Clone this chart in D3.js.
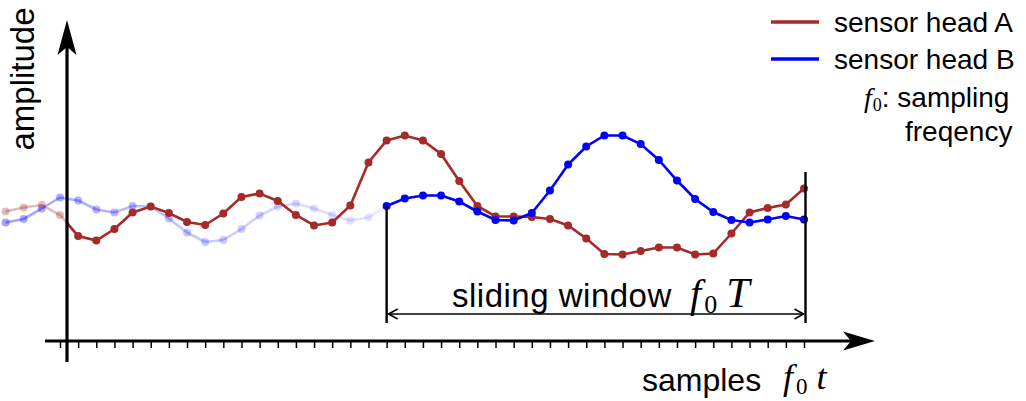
<!DOCTYPE html>
<html>
<head>
<meta charset="utf-8">
<script src="https://cdn.jsdelivr.net/npm/d3@7"></script>
<style>
  html, body { margin: 0; padding: 0; background: #fff; }
  svg { display: block; }
  .sans { font-family: "Liberation Sans", Arial, sans-serif; fill: #000; }
  .math { font-family: "Liberation Serif", "Times New Roman", serif; fill: #000; }
</style>
</head>
<body>
<svg id="chart" width="1026" height="401"></svg>
<script>
// Sample indices (negative indices lie before the time origin)
const samples = d3.range(-3, 42);
// Amplitude of sensor head A at each sample
const headA = [0.07, 0.15, 0.20, 0.00, -0.42, -0.51, -0.28, 0.05, 0.17, 0.04,
  -0.14, -0.20, 0.03, 0.36, 0.43, 0.28, 0.00, -0.21, -0.15, 0.19,
  1.05, 1.49, 1.59, 1.49, 1.22, 0.68, 0.18, -0.03, -0.03, -0.04,
  -0.08, -0.21, -0.47, -0.78, -0.79, -0.72, -0.65, -0.65, -0.79, -0.77,
  -0.37, 0.05, 0.14, 0.21, 0.53];
// Amplitude of sensor head B at each sample
const headB = [-0.15, -0.08, 0.13, 0.35, 0.29, 0.11, 0.05, 0.18, 0.17, -0.07,
  -0.35, -0.54, -0.50, -0.28, -0.01, 0.17, 0.23, 0.13, 0.00, -0.11,
  -0.05, 0.18, 0.33, 0.39, 0.39, 0.27, 0.07, -0.10, -0.11, 0.04,
  0.49, 1.01, 1.37, 1.59, 1.59, 1.42, 1.10, 0.69, 0.32, 0.06,
  -0.10, -0.15, -0.09, -0.02, -0.09];
// Tick positions along the sample axis
const tickSamples = d3.range(0, 42);
// Sliding window bounds (sample indices)
const windowStart = 18;
const windowEnd = 41;
const seriesNames = ["sensor head A", "sensor head B"];

const colorA = "#a52a2a";
const colorB = "#0000ff";

const svg = d3.select("#chart");
const x = d3.scaleLinear().domain([0, 41]).range([60, 804]);
const y = d3.scaleLinear().domain([0, 1]).range([215, 165]);

const ptsA = samples.map((s, i) => ({ s, v: headA[i] }));
const ptsB = samples.map((s, i) => ({ s, v: headB[i] }));

const line = d3.line().x(d => x(d.s)).y(d => y(d.v));

// Clip region right of the amplitude axis
const defs = svg.append("defs");
defs.append("clipPath").attr("id", "afterAxis")
  .append("rect").attr("x", 67).attr("y", 0).attr("width", 1000).attr("height", 401);

// --- Faded history of head B: opacity fades toward the window start
const fadeB = d3.scaleLinear().domain([-3, windowStart - 1]).range([0.36, 0.1]);
const gB0 = svg.append("g");
for (let i = 0; i < ptsB.length - 1; i++) {
  const a = ptsB[i], b = ptsB[i + 1];
  if (b.s > windowStart) break;
  gB0.append("path").attr("d", line([a, b]))
    .attr("fill", "none").attr("stroke", colorB).attr("stroke-width", 2.6)
    .attr("stroke-opacity", fadeB((a.s + b.s) / 2));
}
gB0.selectAll("circle").data(ptsB.filter(d => d.s < windowStart)).join("circle")
  .attr("cx", d => x(d.s)).attr("cy", d => y(d.v)).attr("r", 4)
  .attr("fill", colorB).attr("fill-opacity", d => fadeB(d.s));

// --- Faded head A before the time origin
const gA0 = svg.append("g");
gA0.append("path").attr("d", line(ptsA.filter(d => d.s <= 1)))
  .attr("fill", "none").attr("stroke", colorA).attr("stroke-width", 2.6).attr("stroke-opacity", 0.32);
gA0.selectAll("circle").data(ptsA.filter(d => d.s <= 0)).join("circle")
  .attr("cx", d => x(d.s)).attr("cy", d => y(d.v)).attr("r", 4)
  .attr("fill", colorA).attr("fill-opacity", 0.32);

// --- Head A from the origin on
const gA = svg.append("g").attr("clip-path", "url(#afterAxis)");
gA.append("path").attr("d", line(ptsA.filter(d => d.s >= 0)))
  .attr("fill", "none").attr("stroke", colorA).attr("stroke-width", 2.6);
gA.selectAll("circle").data(ptsA.filter(d => d.s >= 1)).join("circle")
  .attr("cx", d => x(d.s)).attr("cy", d => y(d.v)).attr("r", 4)
  .attr("fill", colorA);

// --- Head B inside the sliding window
const gB = svg.append("g");
gB.append("path").attr("d", line(ptsB.filter(d => d.s >= windowStart)))
  .attr("fill", "none").attr("stroke", colorB).attr("stroke-width", 2.6);
gB.selectAll("circle").data(ptsB.filter(d => d.s >= windowStart)).join("circle")
  .attr("cx", d => x(d.s)).attr("cy", d => y(d.v)).attr("r", 4)
  .attr("fill", colorB);

// --- Axes
const axisY = 341;
const axisX = 67;
const xAxis = d3.axisBottom(x).tickValues(tickSamples).tickSize(7).tickFormat("");
const gx = svg.append("g").attr("transform", `translate(0,${axisY})`).call(xAxis);
gx.select(".domain").remove();
gx.selectAll(".tick line").attr("stroke", "#000").attr("stroke-width", 1.5);

svg.append("line").attr("x1", 45).attr("x2", 852).attr("y1", axisY).attr("y2", axisY)
  .attr("stroke", "#000").attr("stroke-width", 3);
svg.append("path")
  .attr("d", `M875,${axisY} L843,${axisY - 9.5} L851,${axisY} L843,${axisY + 9.5} Z`)
  .attr("fill", "#000");

svg.append("line").attr("x1", axisX).attr("x2", axisX).attr("y1", 362).attr("y2", 46)
  .attr("stroke", "#000").attr("stroke-width", 3.2);
svg.append("path")
  .attr("d", `M${axisX},20 L${axisX - 9.5},55 L${axisX},47 L${axisX + 9.5},55 Z`)
  .attr("fill", "#000");

// --- Sliding window markers
const xs = x(windowStart), xe = x(windowEnd) + 1.5;
svg.append("line").attr("x1", xs).attr("x2", xs).attr("y1", y(headB[windowStart + 3])).attr("y2", 323)
  .attr("stroke", "#000").attr("stroke-width", 2.4);
svg.append("line").attr("x1", xe).attr("x2", xe).attr("y1", 172).attr("y2", 323)
  .attr("stroke", "#000").attr("stroke-width", 2.4);
const arrowY = 314;
svg.append("line").attr("x1", xs + 2).attr("x2", xe - 2).attr("y1", arrowY).attr("y2", arrowY)
  .attr("stroke", "#000").attr("stroke-width", 1.6);
svg.append("path")
  .attr("d", `M${xs + 11},${arrowY - 5} L${xs + 2},${arrowY} L${xs + 11},${arrowY + 5}`)
  .attr("fill", "none").attr("stroke", "#000").attr("stroke-width", 1.6);
svg.append("path")
  .attr("d", `M${xe - 11},${arrowY - 5} L${xe - 2},${arrowY} L${xe - 11},${arrowY + 5}`)
  .attr("fill", "none").attr("stroke", "#000").attr("stroke-width", 1.6);

// --- Labels
svg.append("text").attr("class", "sans")
  .attr("transform", "translate(34,79) rotate(-90)")
  .attr("text-anchor", "middle").attr("font-size", 33).text("amplitude");

svg.append("text").attr("class", "sans").attr("x", 452).attr("y", 307)
  .attr("font-size", 33).attr("letter-spacing", 0.5).text("sliding window");
const swm = svg.append("text").attr("class", "math").attr("x", 690).attr("y", 307);
swm.append("tspan").attr("font-style", "italic").attr("font-size", 40).text("f");
swm.append("tspan").attr("font-size", 26).attr("dy", 6).attr("dx", 3).text("0");
swm.append("tspan").attr("font-style", "italic").attr("font-size", 42).attr("dy", -6).attr("dx", 9).text("T");

svg.append("text").attr("class", "sans").attr("x", 642).attr("y", 391)
  .attr("font-size", 32).text("samples");
const sm = svg.append("text").attr("class", "math").attr("x", 783).attr("y", 389);
sm.append("tspan").attr("font-style", "italic").attr("font-size", 36).text("f");
sm.append("tspan").attr("font-size", 23).attr("dy", 5).attr("dx", 3).text("0");
sm.append("tspan").attr("font-style", "italic").attr("font-size", 36).attr("dy", -5).attr("dx", 9).text("t");

// --- Legend
const legend = svg.append("g");
[colorA, colorB].forEach((c, i) => {
  const ly = 22 + i * 37;
  legend.append("line").attr("x1", 771).attr("x2", 819).attr("y1", ly).attr("y2", ly)
    .attr("stroke", c).attr("stroke-width", 3.4);
  legend.append("text").attr("class", "sans").attr("x", 834).attr("y", ly + 10)
    .attr("font-size", 28).text(seriesNames[i]);
});
const note = svg.append("text").attr("x", 864).attr("y", 107);
note.append("tspan").attr("class", "math").attr("font-style", "italic").attr("font-size", 28).text("f");
note.append("tspan").attr("class", "math").attr("font-size", 18).attr("dy", 4).attr("dx", 1).text("0");
note.append("tspan").attr("class", "sans").attr("font-size", 28).attr("dy", -4).text(": sampling");
svg.append("text").attr("class", "sans").attr("x", 905).attr("y", 141)
  .attr("font-size", 28).text("freqency");
</script>
</body>
</html>
